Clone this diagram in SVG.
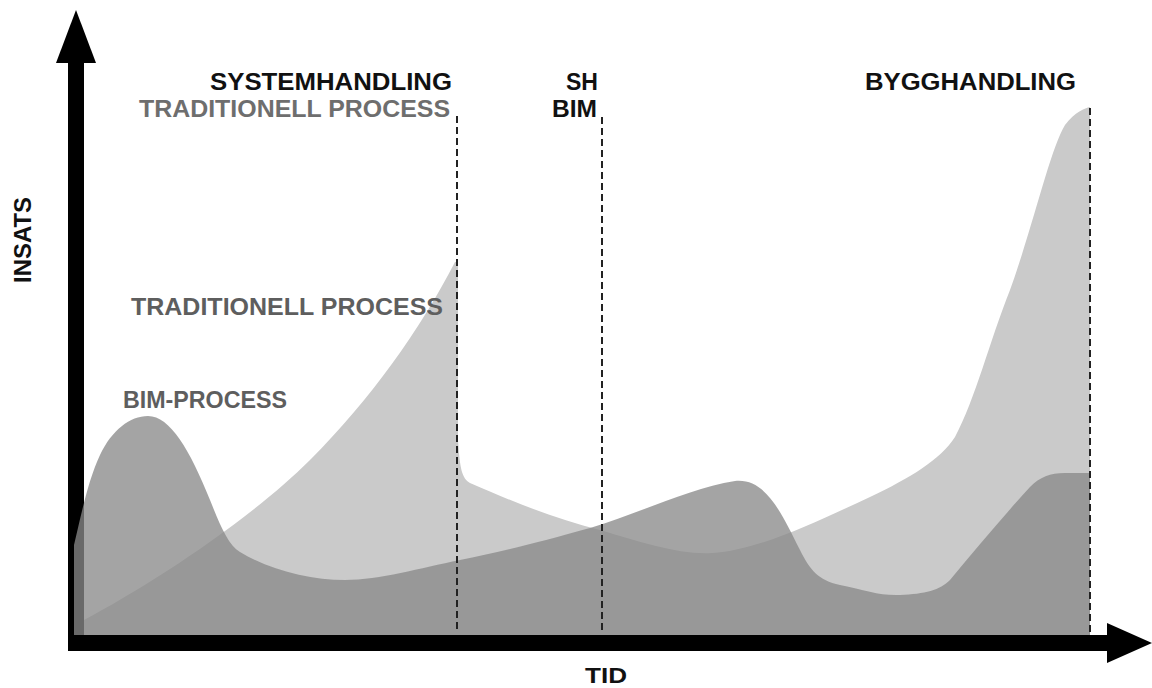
<svg xmlns="http://www.w3.org/2000/svg" width="1152" height="688" viewBox="0 0 1152 688">
<style>
  .lbl { font-family: "Liberation Sans", Arial, sans-serif; font-weight: 700; font-size: 24px; }
  .blk { fill: #111; }
  .gry { fill: #6e6e6e; }
  .dgr { fill: #5e5e5e; }
  .dash { stroke: #222; stroke-width: 2; stroke-dasharray: 7 4; fill: none; }
  .axis { fill: #000; }
</style>
<rect width="1152" height="688" fill="#fff"/>
<g id="axes">
  <rect class="axis" x="68" y="60" width="16" height="591"/>
  <polygon class="axis" points="76,10 96,63 56,63"/>
  <rect class="axis" x="68" y="635" width="1042" height="16"/>
  <polygon class="axis" points="1107,623 1152,643 1107,663"/>
</g>
<g id="traditionell-area">
  <path fill="#cacaca" d="M84,635 L84,620 C150,585 250,520 310,460 C370,400 420,330 455,262 L458,262 L458,440 C460,470 462,478 470,483 C520,505 560,520 600,530 C640,542 680,555 712,553 C760,550 820,520 870,497 C910,478 940,460 955,437 C975,400 990,340 1010,290 C1035,220 1050,150 1065,125 C1075,112 1085,108 1090,107 L1090,635 Z"/>
</g>
<g id="bim-area">
  <path fill="#888" fill-opacity="0.77" d="M74,635 L74,545 C80,520 88,480 100,455 C112,430 130,416 148,416 C170,416 190,450 210,500 C220,525 228,545 240,552 C270,570 310,580 345,580 C380,580 420,568 460,560 C500,552 540,542 590,528 C640,513 690,488 735,481 C765,478 780,510 800,550 C810,570 818,580 840,585 C865,590 880,596 900,595 C925,594 940,590 950,580 C975,550 1000,520 1030,487 C1040,477 1050,473 1065,473 L1090,473 L1090,635 Z"/>
</g>
<g id="connectors">
  <line class="dash" x1="457" y1="116" x2="457" y2="633"/>
  <line class="dash" x1="602" y1="117" x2="602" y2="633"/>
  <line class="dash" x1="1090" y1="108" x2="1090" y2="633"/>
</g>
<g id="label-systemhandling">
  <text class="lbl blk" x="210" y="90" textLength="242" lengthAdjust="spacingAndGlyphs">SYSTEMHANDLING</text>
  <text class="lbl gry" x="139" y="117" textLength="311" lengthAdjust="spacingAndGlyphs">TRADITIONELL PROCESS</text>
</g>
<g id="label-sh-bim">
  <text class="lbl blk" x="566" y="90" textLength="32" lengthAdjust="spacingAndGlyphs">SH</text>
  <text class="lbl blk" x="552" y="117" textLength="45" lengthAdjust="spacingAndGlyphs">BIM</text>
</g>
<g id="label-bygghandling">
  <text class="lbl blk" x="865" y="90" textLength="211" lengthAdjust="spacingAndGlyphs">BYGGHANDLING</text>
</g>
<g id="label-traditionell">
  <text class="lbl dgr" x="131" y="315" textLength="312" lengthAdjust="spacingAndGlyphs">TRADITIONELL PROCESS</text>
</g>
<g id="label-bim-process">
  <text class="lbl dgr" x="123" y="408" textLength="164" lengthAdjust="spacingAndGlyphs">BIM-PROCESS</text>
</g>
<g id="label-insats">
  <text class="lbl blk" transform="translate(31,283) rotate(-90)" x="0" y="0" textLength="86" lengthAdjust="spacingAndGlyphs">INSATS</text>
</g>
<g id="label-tid">
  <text class="lbl blk" x="585" y="683" style="font-size:22px" textLength="42" lengthAdjust="spacingAndGlyphs">TID</text>
</g>
</svg>
